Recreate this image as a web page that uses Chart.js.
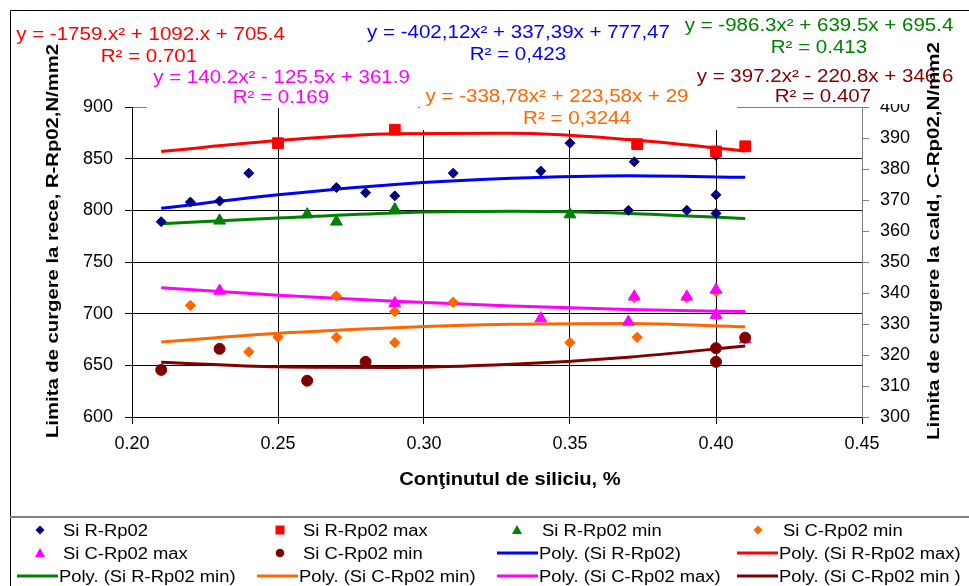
<!DOCTYPE html>
<html><head><meta charset="utf-8">
<script src="https://cdn.jsdelivr.net/npm/chart.js@4.4.1/dist/chart.umd.min.js"></script>
<style>html,body{margin:0;padding:0;background:#fff;}#wrap{width:969px;height:586px;position:relative;background:#fff;}</style>
</head><body><div id="wrap"><canvas id="c" width="969" height="586"></canvas></div>
<script>
// ---------- DATA ----------
const xTickValues = [0.20, 0.25, 0.30, 0.35, 0.40, 0.45];
const leftTickValues = [600, 650, 700, 750, 800, 850, 900];
const rightTickValues = [300, 310, 320, 330, 340, 350, 360, 370, 380, 390, 400];

const siR_x = [0.21, 0.22, 0.23, 0.24, 0.27, 0.28, 0.29, 0.31, 0.34, 0.35, 0.372, 0.37, 0.39, 0.40, 0.40, 0.40];
const siR_y = [789, 808, 809, 836, 822, 817, 814, 836, 838, 865, 847, 800, 800, 797, 815, 853];
const siRmax_x = [0.25, 0.29, 0.373, 0.40, 0.41];
const siRmax_y = [865, 878, 864, 857, 862];
const siRmin_x = [0.23, 0.26, 0.27, 0.29, 0.35];
const siRmin_y = [790, 796, 789, 801, 796];
const siCminA_x = [0.22, 0.24, 0.25, 0.27, 0.27, 0.29, 0.29, 0.31, 0.35, 0.373, 0.372, 0.39, 0.40];
const siCminA_y = [336, 321, 325.7, 339, 325.7, 334, 324, 337, 324, 325.7, 338.5, 338.5, 340.5];
const siCmax_x = [0.23, 0.29, 0.34, 0.37, 0.372, 0.39, 0.40, 0.40, 0.41];
const siCmax_y = [340.7, 336.7, 331.8, 330.7, 338.8, 338.8, 341, 332.9, 325];
const siCminB_x = [0.21, 0.23, 0.26, 0.28, 0.40, 0.40, 0.41];
const siCminB_y = [315.2, 322, 311.7, 317.8, 322.2, 317.8, 325.6];

const trendX = [0.21, 0.25, 0.29, 0.33, 0.37, 0.41];
const polyR = [802, 815, 825, 831, 833.5, 832];
const polyRmax = [857, 867.5, 874, 874.5, 868.5, 857.5];
const polyRmin = [787, 792.5, 797.5, 799, 797, 792];
const polyCminA = [324.2, 327, 328.8, 329.9, 330.2, 329.1];
const polyCmax = [341.7, 339.3, 337.3, 335.8, 334.7, 334.0];
const polyCminB = [317.7, 316.2, 316.0, 317.0, 319.3, 322.9];

const seriesNames = ['Si R-Rp02', 'Si R-Rp02 max', 'Si R-Rp02 min', 'Si C-Rp02 min', 'Si C-Rp02 max', 'Si C-Rp02 min',
  'Poly. (Si R-Rp02)', 'Poly. (Si R-Rp02 max)', 'Poly. (Si R-Rp02 min)', 'Poly. (Si C-Rp02 min)', 'Poly. (Si C-Rp02 max)', 'Poly. (Si C-Rp02 min )'];
const equations = ['y = -1759.x² + 1092.x + 705.4', 'y = -402,12x² + 337,39x + 777,47', 'y = -986.3x² + 639.5x + 695.4',
  'y = 140.2x² - 125.5x + 361.9', 'y = -338,78x² + 223,58x + 29', 'y = 397.2x² - 220.8x + 346.6'];
const rSquared = ['R² = 0.701', 'R² = 0,423', 'R² = 0.413', 'R² = 0.169', 'R² = 0,3244', 'R² = 0.407'];
const xTitle = 'Conţinutul de siliciu, %';
const yLeftTitle = 'Limita de curgere la rece, R-Rp02,N/mm2';
const yRightTitle = 'Limita de curgere la cald, C-Rp02,N/mm2';

// ---------- STYLE ----------
const C = { navy:'#000080', red:'#FF0000', green:'#008000', orange:'#FF6600', magenta:'#FF00FF', dred:'#800000', blue:'#0000FF' };
const FONT = "'Liberation Sans', Arial, sans-serif";
const pts = (xs, ys) => xs.map((x, i) => ({ x: x, y: ys[i] }));

function scatterDs(label, xs, ys, color, style, r, axis, order) {
  return { label, data: pts(xs, ys), yAxisID: axis, showLine: false, pointStyle: style, pointRadius: r,
    pointBackgroundColor: color, pointBorderColor: color, pointBorderWidth: 1, order };
}
function lineDs(label, ys, color, axis) {
  return { label, data: pts(trendX, ys), yAxisID: axis, showLine: true, borderColor: color, borderWidth: 3,
    pointRadius: 0, fill: false, cubicInterpolationMode: 'monotone', order: 30 };
}

const datasets = [
  scatterDs(seriesNames[0], siR_x, siR_y, C.navy, 'rectRot', 5, 'y', 16),
  scatterDs(seriesNames[1], siRmax_x, siRmax_y, C.red, 'rect', 7.6, 'y', 15),
  scatterDs(seriesNames[2], siRmin_x, siRmin_y, C.green, 'triangle', 6.8, 'y', 14),
  scatterDs(seriesNames[3], siCminA_x, siCminA_y, C.orange, 'rectRot', 5.2, 'y2', 13),
  scatterDs(seriesNames[4], siCmax_x, siCmax_y, C.magenta, 'triangle', 6.8, 'y2', 12),
  scatterDs(seriesNames[5], siCminB_x, siCminB_y, C.dred, 'circle', 5.5, 'y2', 11),
  lineDs(seriesNames[6], polyR, C.blue, 'y'),
  lineDs(seriesNames[7], polyRmax, C.red, 'y'),
  lineDs(seriesNames[8], polyRmin, C.green, 'y'),
  lineDs(seriesNames[9], polyCminA, C.orange, 'y2'),
  lineDs(seriesNames[10], polyCmax, C.magenta, 'y2'),
  lineDs(seriesNames[11], polyCminB, C.dred, 'y2'),
];

// text helper with horizontal stretch (reference text is stretched horizontally)
function txt(ctx, s, x, y, font, color, align, sx) {
  ctx.save();
  ctx.font = font; ctx.fillStyle = color; ctx.textBaseline = 'alphabetic'; ctx.textAlign = 'left';
  const w = ctx.measureText(s).width * sx;
  const left = align === 'center' ? x - w / 2 : (align === 'right' ? x - w : x);
  ctx.translate(left, y); ctx.scale(sx, 1); ctx.fillText(s, 0, 0);
  ctx.restore();
}
function vtxt(ctx, s, cx, cy, font, length, angle) {
  ctx.save();
  ctx.font = font; ctx.fillStyle = '#000'; ctx.textBaseline = 'alphabetic'; ctx.textAlign = 'center';
  const k = length / ctx.measureText(s).width;
  ctx.translate(cx, cy); ctx.rotate(angle); ctx.scale(k, 1); ctx.fillText(s, 0, 0);
  ctx.restore();
}
function marker(ctx, style, color, x, y) {
  ctx.save(); ctx.fillStyle = color; ctx.beginPath();
  if (style === 'rectRot') { ctx.moveTo(x - 4.5, y); ctx.lineTo(x, y - 4.5); ctx.lineTo(x + 4.5, y); ctx.lineTo(x, y + 4.5); }
  else if (style === 'rect') { ctx.rect(x - 4.5, y - 4.5, 9, 9); }
  else if (style === 'triangle') { ctx.moveTo(x, y - 5); ctx.lineTo(x + 5, y + 4); ctx.lineTo(x - 5, y + 4); }
  else { ctx.arc(x, y, 4.3, 0, Math.PI * 2); }
  ctx.closePath(); ctx.fill(); ctx.restore();
}

const eqLayout = [ // [centerX, eqBaseline, r2CenterX, r2Baseline, color]
  [150.5, 39.5, 149, 61.5, C.red],
  [518.5, 37.5, 518, 59.5, C.blue],
  [819, 31, 819, 53, C.green],
  [281.5, 83, 281, 103, C.magenta],
  [557, 102, 577, 124, C.orange],
  [825, 81.5, 823, 101.5, C.dred],
];
const legendCols = [[40, 63, 17, 58], [280, 303, 257, 298], [517, 542, 497, 538], [758, 783, 737, 778]];
const legendRows = [536, 559, 582];
const legendStyle = [['rectRot', C.navy], ['rect', C.red], ['triangle', C.green], ['rectRot', C.orange], ['triangle', C.magenta], ['circle', C.dred],
  ['line', C.blue], ['line', C.red], ['line', C.green], ['line', C.orange], ['line', C.magenta], ['line', C.dred]];

const overlay = {
  id: 'overlay',
  beforeDatasetsDraw(chart) {
    const ctx = chart.ctx;
    ctx.save(); ctx.fillStyle = '#fff';
    ctx.fillRect(147, 62, 271, 46);
    ctx.fillRect(420, 84, 317, 46);
    ctx.fillRect(690, 58, 268, 46);
    ctx.restore();
    const f = '18px ' + FONT;
    eqLayout.forEach((e, i) => {
      txt(ctx, equations[i], e[0], e[1], f, e[4], 'center', 1.14);
      txt(ctx, rSquared[i], e[2], e[3], f, e[4], 'center', 1.14);
    });
  },
  afterDraw(chart) {
    const ctx = chart.ctx;
    // axis titles
    txt(ctx, xTitle, 510, 485, 'bold 17.5px ' + FONT, '#000', 'center', 1.15);
    vtxt(ctx, yLeftTitle, 57.5, 241, 'bold 17px ' + FONT, 394, -Math.PI / 2);
    vtxt(ctx, yRightTitle, 939, 241, 'bold 17px ' + FONT, 398, -Math.PI / 2);
    // frame
    ctx.save();
    ctx.strokeStyle = '#000'; ctx.lineWidth = 1;
    ctx.beginPath(); ctx.moveTo(10.5, 586); ctx.lineTo(10.5, 10.5); ctx.lineTo(969, 10.5); ctx.stroke();
    ctx.strokeStyle = '#808080'; ctx.lineWidth = 2;
    ctx.beginPath(); ctx.moveTo(10, 517); ctx.lineTo(969, 517); ctx.stroke();
    ctx.restore();
    // legend
    const f = '16px ' + FONT;
    seriesNames.forEach((name, i) => {
      const col = legendCols[i % 4], row = legendRows[Math.floor(i / 4)];
      const st = legendStyle[i];
      const cy = row - 6;
      if (st[0] === 'line') {
        ctx.save(); ctx.strokeStyle = st[1]; ctx.lineWidth = 3;
        ctx.beginPath(); ctx.moveTo(col[2], cy); ctx.lineTo(col[3], cy); ctx.stroke(); ctx.restore();
        txt(ctx, name, col[3] + 1, row, f, '#000', 'left', 1.15);
      } else {
        marker(ctx, st[0], st[1], col[0], cy);
        txt(ctx, name, col[1], row, f, '#000', 'left', 1.15);
      }
    });
  }
};

const tickFont = { family: FONT, size: 18 };
new Chart(document.getElementById('c'), {
  type: 'scatter',
  data: { datasets },
  options: {
    responsive: false, animation: false, devicePixelRatio: 1,
    layout: { padding: { top: 107, left: 0, right: 0, bottom: 0 } },
    plugins: { legend: { display: false }, tooltip: { enabled: false } },
    scales: {
      x: {
        type: 'linear', min: 0.2, max: 0.45,
        afterBuildTicks: s => { s.ticks = xTickValues.map(v => ({ value: v })); },
        afterFit: s => { s.height = 169; },
        ticks: { callback: v => Number(v).toFixed(2), font: tickFont, color: '#000', padding: 9, maxRotation: 0, autoSkip: false },
        grid: { color: c => (c.tick && Math.abs(c.tick.value - 0.45) < 1e-6) ? '#808080' : '#000', tickLength: 7, tickColor: '#000', lineWidth: 1 },
        border: { color: '#000', width: 1 }
      },
      y: {
        position: 'left', min: 600, max: 900,
        afterBuildTicks: s => { s.ticks = leftTickValues.map(v => ({ value: v })); },
        afterFit: s => { s.width = 132; },
        ticks: { font: tickFont, color: '#000', padding: 12, autoSkip: false },
        grid: { color: c => (c.tick && c.tick.value === 900) ? '#808080' : '#000', tickLength: 7, tickColor: '#000', lineWidth: 1 },
        border: { color: '#000', width: 1 }
      },
      y2: {
        position: 'right', min: 300, max: 400,
        afterBuildTicks: s => { s.ticks = rightTickValues.map(v => ({ value: v })); },
        afterFit: s => { s.width = 107; },
        ticks: { font: tickFont, color: '#000', padding: 11, autoSkip: false },
        grid: { drawOnChartArea: false, tickLength: 7, tickColor: '#808080', color: '#808080' },
        border: { color: '#808080', width: 1 }
      }
    }
  },
  plugins: [overlay]
});
</script>
</body></html>
